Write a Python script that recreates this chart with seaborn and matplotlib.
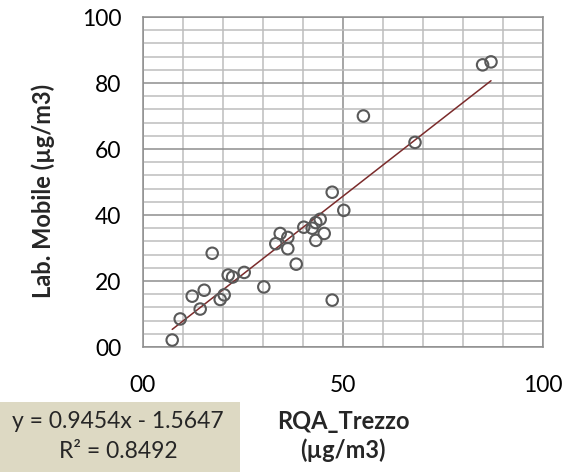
import matplotlib
matplotlib.use("Agg")
import matplotlib.pyplot as plt
from matplotlib.ticker import MultipleLocator, FuncFormatter
from matplotlib.patches import Rectangle
import numpy as np
import pandas as pd
import seaborn as sns

# ---- data ----
rqa_trezzo = [7.3, 9.3, 12.3, 14.3, 15.3, 17.3, 19.3, 20.3, 21.3, 22.4, 25.3,
              30.2, 33.2, 34.3, 36.2, 36.2, 38.3, 40.2, 42.3, 43.2, 44.3, 43.2,
              45.3, 47.3, 47.3, 50.2, 55.1, 68.0, 84.9, 87.0]
lab_mobile = [2.1, 8.5, 15.4, 11.5, 17.2, 28.4, 14.4, 15.8, 21.8, 21.2, 22.6,
              18.2, 31.3, 34.4, 33.2, 29.8, 25.1, 36.3, 36.0, 37.7, 38.7, 32.3,
              34.4, 46.9, 14.2, 41.4, 70.0, 62.0, 85.5, 86.4]
slope = 0.9454
intercept = -1.5647
r_squared = 0.8492
x_label = "RQA_Trezzo\n(µg/m3)"
y_label = "Lab. Mobile (µg/m3)"

df = pd.DataFrame({"x": rqa_trezzo, "y": lab_mobile})
x_fit = np.array([min(rqa_trezzo), max(rqa_trezzo)])
fit = pd.DataFrame({"x": x_fit, "y": slope * x_fit + intercept})

sns.set_style("white")
plt.rcParams["font.family"] = ["Lato", "DejaVu Sans"]

FS = 16.5
FS_EQ = 16.5
FS_LAB = 17
fig = plt.figure(figsize=(5.66, 4.75), dpi=100)
ax = fig.add_axes([143 / 566, 1 - 347 / 475, 400 / 566, 330 / 475])

major_c = "#8e8e8e"
minor_c = "#bdbdbd"

sns.lineplot(data=fit, x="x", y="y", ax=ax, color="#7b2b2b", linewidth=1.1, zorder=3)
sns.scatterplot(data=df, x="x", y="y", ax=ax, marker="o", s=68,
                facecolors="none", edgecolor="#595959", linewidth=1.5, zorder=4)

ax.set_xlim(0, 100)
ax.set_ylim(0, 100)
ax.xaxis.set_major_locator(MultipleLocator(50))
ax.xaxis.set_minor_locator(MultipleLocator(10))
ax.yaxis.set_major_locator(MultipleLocator(20))
ax.yaxis.set_minor_locator(MultipleLocator(4))
fmt = FuncFormatter(lambda v, p: f"{v:02.0f}")
ax.xaxis.set_major_formatter(fmt)
ax.yaxis.set_major_formatter(fmt)

ax.set_axisbelow(True)
ax.grid(which="minor", color=minor_c, linewidth=1.1)
ax.grid(which="major", color=major_c, linewidth=1.1)
for s in ax.spines.values():
    s.set_color(major_c)
    s.set_linewidth(1.1)

ax.tick_params(axis="both", which="major", direction="inout", length=9,
               width=1.1, color=major_c, labelsize=FS, labelcolor="black")
ax.tick_params(axis="x", which="major", pad=16)
ax.tick_params(axis="y", which="major", pad=11)
ax.tick_params(which="minor", length=0)

ax.set_xlabel(x_label, fontsize=FS_LAB, fontweight="bold", va="center", linespacing=1.3)
ax.xaxis.set_label_coords(0.5, (347 - 436) / 330)
ax.set_ylabel(y_label, fontsize=FS_LAB, fontweight="bold", va="center")
ax.yaxis.set_label_coords((43 - 143) / 400, (347 - 191) / 330)

# equation box
fig.patches.append(Rectangle((0, 1 - 472 / 475), 240 / 566, 70 / 475,
                             transform=fig.transFigure, facecolor="#ddd9c3",
                             edgecolor="none", zorder=0))
fig.text(118 / 566, 1 - 422 / 475, f"y = {slope}x - {abs(intercept)}",
         ha="center", va="center", fontsize=FS_EQ)
fig.text(118 / 566, 1 - 452 / 475, f"R² = {r_squared}",
         ha="center", va="center", fontsize=FS_EQ)

fig.savefig("out.png", dpi=100)
